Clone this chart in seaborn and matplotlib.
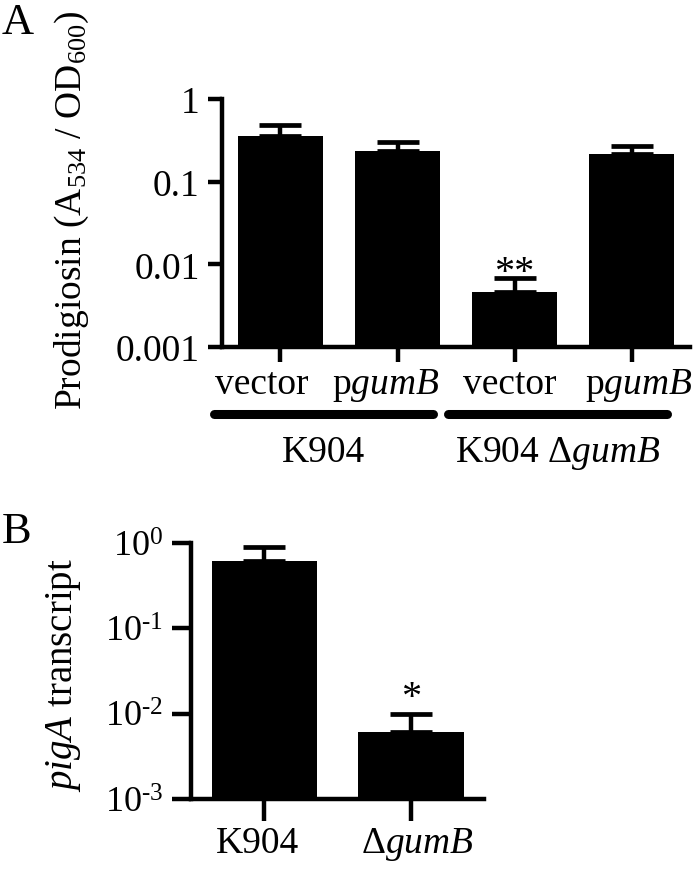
import numpy as np
import pandas as pd
import matplotlib
matplotlib.use('Agg')
import matplotlib.pyplot as plt
import matplotlib.transforms as mtransforms
import seaborn as sns
from matplotlib.ticker import FixedLocator, NullLocator

# ---------- panel A: prodigiosin ----------
a_conditions = ['K904 vector', 'K904 pgumB', 'dgumB vector', 'dgumB pgumB']
a_ticklabels = ['vector', r'p$\mathit{gumB}$', 'vector', r'p$\mathit{gumB}$']
a_mean = [0.355, 0.234, 0.0046, 0.215]
a_upper = [0.48, 0.30, 0.0068, 0.27]
a_groups = ['K904', r'K904 Δ$\mathit{gumB}$']
a_group_members = [[0, 1], [2, 3]]
a_stars = ['', '', '**', '']
a_yticks = [0.001, 0.01, 0.1, 1]
a_yticklabels = ['0.001', '0.01', '0.1', '1']

# ---------- panel B: pigA transcript ----------
b_strains = ['K904', 'dgumB']
b_ticklabels = ['K904', r'Δ$\mathit{gumB}$']
b_mean = [0.62, 0.0061]
b_upper = [0.90, 0.0100]
b_stars = ['', '*']
b_yticks = [1e-3, 1e-2, 1e-1, 1]
b_yticklabels = [r'10$^{\text{-3}}$', r'10$^{\text{-2}}$', r'10$^{\text{-1}}$', r'10$^{0}$']

sns.set_style('ticks')
plt.rcParams['font.family'] = ['Liberation Serif', 'DejaVu Serif']
plt.rcParams['mathtext.fontset'] = 'custom'
plt.rcParams['mathtext.rm'] = 'Liberation Serif'
plt.rcParams['mathtext.it'] = 'Liberation Serif:italic'
plt.rcParams['mathtext.bf'] = 'Liberation Serif:bold'
for key in ['text.color', 'axes.edgecolor', 'axes.labelcolor', 'xtick.color', 'ytick.color']:
    plt.rcParams[key] = 'black'


def bar_panel(ax, cats, means, upper, ticklabels, yticks, yticklabels, stars,
              width, ytick_len, xtick_len, star_offset, label_shift_px, ysize, xsize):
    df = pd.DataFrame({'cond': cats, 'value': means})
    sns.barplot(data=df, x='cond', y='value', order=cats, color='black',
                saturation=1, width=width, errorbar=None, linewidth=0, ax=ax)
    ax.set_yscale('log')
    pos = np.arange(len(cats))
    means = np.array(means)
    err_up = np.array(upper) - means
    ax.errorbar(pos, means, yerr=[np.zeros_like(means), err_up], fmt='none',
                ecolor='black', elinewidth=3.2, capsize=15, capthick=3.4)
    for p, up, s in zip(pos, upper, stars):
        if s:
            ax.annotate(s, xy=(p, up), xytext=(0, star_offset), textcoords='offset points',
                        ha='center', va='baseline', fontsize=29)

    ax.set_ylim(yticks[0], yticks[-1])
    ax.set_xlim(-0.5, len(cats) - 0.5)
    ax.yaxis.set_major_locator(FixedLocator(yticks))
    ax.yaxis.set_minor_locator(NullLocator())
    ax.set_yticklabels(yticklabels)
    ax.set_xticks(pos)
    ax.set_xticklabels(ticklabels)
    ax.set_xlabel('')

    sns.despine(ax=ax)
    for side in ['left', 'bottom']:
        ax.spines[side].set_linewidth(3.2)
        ax.spines[side].set_capstyle('projecting')
    ax.tick_params(axis='y', length=ytick_len, width=3.2, pad=6, labelsize=ysize)
    ax.tick_params(axis='x', length=xtick_len, width=3.2, pad=3, labelsize=xsize)

    # the labels in the original sit slightly spread out from the tick marks
    for lab, dx in zip(ax.get_xticklabels(), label_shift_px):
        shift = mtransforms.ScaledTranslation(dx / 100, 0, ax.figure.dpi_scale_trans)
        lab.set_transform(lab.get_transform() + shift)


fig = plt.figure(figsize=(7, 8.7), dpi=100)

# panel A
ax_a = fig.add_axes([0.317, 0.60, 0.669, 0.285])
bar_panel(ax_a, a_conditions, a_mean, a_upper, a_ticklabels, a_yticks, a_yticklabels,
          a_stars, 0.725, 10, 11, -3, [-19, -12, -5, 7], 27, 27)
ax_a.set_ylabel(r'Prodigiosin (A$_{534}$ / OD$_{600}$)', fontsize=27)
ax_a.yaxis.set_label_coords(-0.28, 0.555)

trans = ax_a.get_xaxis_transform()
for name, members in zip(a_groups, a_group_members):
    x0 = members[0] - 0.57
    x1 = members[-1] + 0.30
    ax_a.plot([x0, x1], [-0.27, -0.27], transform=trans, color='black',
              linewidth=6.5, solid_capstyle='round', clip_on=False)
    ax_a.text((x0 + x1) / 2, -0.46, name, transform=trans, ha='center',
              va='baseline', fontsize=27)

# panel B
ax_b = fig.add_axes([0.273, 0.0805, 0.419, 0.294])
bar_panel(ax_b, b_strains, b_mean, b_upper, b_ticklabels, b_yticks, b_yticklabels,
          b_stars, 0.72, 14, 16, 5, [-7, 6], 26, 27)
ax_b.set_ylabel(r'$\mathit{pigA}$ transcript', fontsize=28)
ax_b.yaxis.set_label_coords(-0.37, 0.49)

fig.text(0.003, 0.997, 'A', fontsize=32, ha='left', va='top')
fig.text(0.003, 1 - 512 / 870, 'B', fontsize=32, ha='left', va='top')

fig.savefig('out.png', dpi=100)
